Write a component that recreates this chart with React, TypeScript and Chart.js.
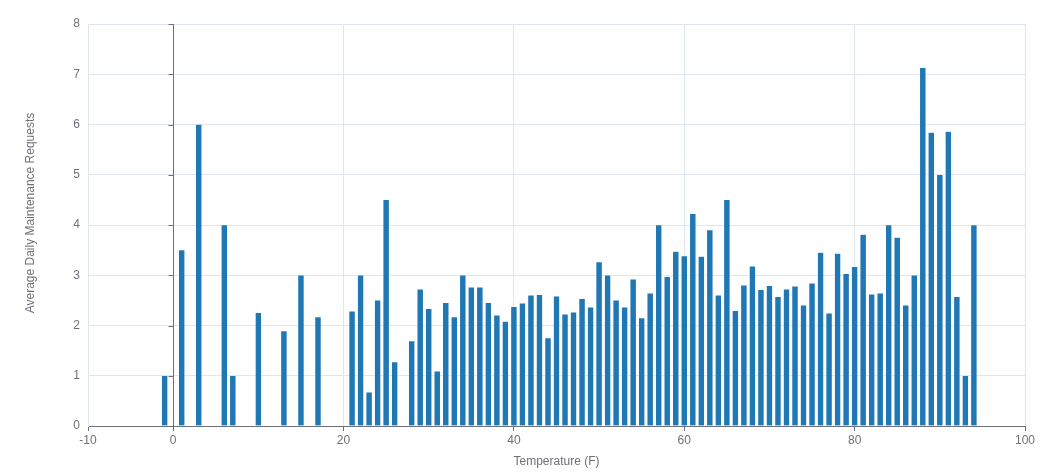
import React, { useEffect, useRef } from "react";
import { Chart, registerables } from "chart.js";

Chart.register(...registerables);

const temperatures: number[] = [
  -1, 1, 3, 6, 7, 10, 13, 15, 17, 21, 22, 23, 24, 25, 26,
  28, 29, 30, 31, 32, 33, 34, 35, 36, 37, 38, 39, 40, 41, 42, 43, 44, 45, 46, 47, 48, 49,
  50, 51, 52, 53, 54, 55, 56, 57, 58, 59, 60, 61, 62, 63, 64, 65, 66, 67, 68, 69,
  70, 71, 72, 73, 74, 75, 76, 77, 78, 79, 80, 81, 82, 83, 84, 85, 86, 87, 88, 89,
  90, 91, 92, 93, 94,
];

const avgRequests: number[] = [
  1.0, 3.5, 6.0, 4.0, 1.0, 2.25, 1.89, 3.0, 2.17, 2.28, 3.0, 0.67, 2.5, 4.5, 1.27,
  1.69, 2.72, 2.33, 1.09, 2.45, 2.17, 3.0, 2.76, 2.76, 2.45, 2.2, 2.08, 2.37, 2.44, 2.6, 2.61, 1.75, 2.58, 2.22, 2.26, 2.53, 2.36,
  3.26, 3.0, 2.5, 2.36, 2.92, 2.15, 2.64, 4.0, 2.97, 3.47, 3.38, 4.22, 3.37, 3.9, 2.6, 4.5, 2.29, 2.8, 3.18, 2.71,
  2.79, 2.57, 2.72, 2.78, 2.4, 2.84, 3.45, 2.24, 3.43, 3.03, 3.17, 3.81, 2.62, 2.64, 4.0, 3.75, 2.4, 3.0, 7.13, 5.84,
  5.0, 5.86, 2.57, 1.0, 4.0,
];

const xTickValues: number[] = [-10, 0, 20, 40, 60, 80, 100];
const yTickValues: number[] = [0, 1, 2, 3, 4, 5, 6, 7, 8];

const xTitle = "Temperature (F)";
const yTitle = "Average Daily Maintenance Requests";

const AXIS_COLOR = "#6e7079";
const GRID_COLOR = "#e0e6f1";
const BAR_COLOR = "#1f77b4";
const FONT = "'Liberation Sans', Arial, sans-serif";

const zeroAxisPlugin = {
  id: "zeroAxis",
  afterDatasetsDraw(chart: any) {
    const { ctx, scales } = chart;
    const x = scales.x;
    const y = scales.y;
    const px = Math.round(x.getPixelForValue(0)) + 0.5;
    ctx.save();
    ctx.strokeStyle = AXIS_COLOR;
    ctx.lineWidth = 1;
    ctx.beginPath();
    ctx.moveTo(px, y.top);
    ctx.lineTo(px, y.bottom);
    y.ticks.forEach((t: any) => {
      const py = Math.round(y.getPixelForValue(t.value)) + 0.5;
      ctx.moveTo(px - 5, py);
      ctx.lineTo(px, py);
    });
    ctx.stroke();
    ctx.restore();
  },
};

const yTitlePlugin = {
  id: "yTitle",
  afterDraw(chart: any) {
    const { ctx, chartArea } = chart;
    ctx.save();
    ctx.translate(31, (chartArea.top + chartArea.bottom) / 2 - 12);
    ctx.rotate(-Math.PI / 2);
    ctx.fillStyle = AXIS_COLOR;
    ctx.font = `12px ${FONT}`;
    ctx.textAlign = "center";
    ctx.textBaseline = "middle";
    ctx.fillText(yTitle, 0, 0);
    ctx.restore();
  },
};

export default function App() {
  const canvasRef = useRef<HTMLCanvasElement | null>(null);

  useEffect(() => {
    document.body.style.margin = "0";
    const canvas = canvasRef.current;
    if (!canvas) return;
    const chart = new Chart(canvas, {
      type: "bar",
      data: {
        datasets: [
          {
            data: temperatures.map((t, i) => ({ x: t, y: avgRequests[i] })),
            backgroundColor: BAR_COLOR,
            borderColor: "rgba(255,255,255,0.3)",
            borderWidth: 0.5,
            barThickness: 5.8,
          },
        ],
      },
      options: {
        animation: false,
        responsive: false,
        maintainAspectRatio: false,
        layout: { padding: { top: 24, right: 29, left: 0, bottom: 0 } },
        plugins: {
          legend: { display: false },
          tooltip: { enabled: false },
        },
        scales: {
          x: {
            type: "linear",
            min: -10,
            max: 100,
            offset: false,
            afterBuildTicks: (scale: any) => {
              scale.ticks = xTickValues.map((v) => ({ value: v }));
            },
            afterFit: (scale: any) => {
              scale.height = 48;
            },
            grid: {
              offset: false,
              color: GRID_COLOR,
              tickColor: AXIS_COLOR,
              tickLength: 5,
              drawTicks: true,
            },
            border: { color: AXIS_COLOR, width: 1 },
            ticks: {
              color: AXIS_COLOR,
              font: { family: FONT, size: 12 },
              padding: 2,
              maxRotation: 0,
              autoSkip: false,
            },
            title: {
              display: true,
              text: xTitle,
              color: AXIS_COLOR,
              font: { family: FONT, size: 12 },
              padding: { top: 0, bottom: 5 },
            },
          },
          y: {
            type: "linear",
            min: 0,
            max: 8,
            afterBuildTicks: (scale: any) => {
              scale.ticks = yTickValues.map((v) => ({ value: v }));
            },
            afterFit: (scale: any) => {
              scale.width = 88;
            },
            grid: {
              color: GRID_COLOR,
              drawTicks: false,
            },
            border: { color: GRID_COLOR, width: 1 },
            ticks: {
              color: AXIS_COLOR,
              font: { family: FONT, size: 12 },
              padding: 8,
            },
            title: { display: false },
          },
        },
      },
      plugins: [zeroAxisPlugin, yTitlePlugin],
    });
    return () => chart.destroy();
  }, []);

  return (
    <div style={{ position: "relative", width: 1054, height: 474 }}>
      <canvas ref={canvasRef} width={1054} height={474} style={{ width: 1054, height: 474, display: "block" }} />
    </div>
  );
}
